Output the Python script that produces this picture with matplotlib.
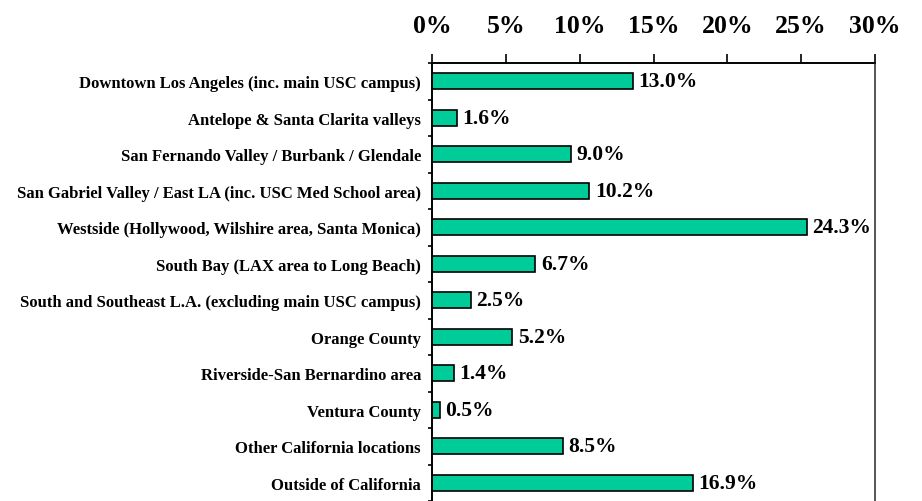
import numpy as np
import matplotlib
matplotlib.use('Agg')
import matplotlib.pyplot as plt
from matplotlib.ticker import FixedLocator

plt.rcParams['font.family'] = ['Liberation Serif', 'DejaVu Serif']
plt.rcParams['font.weight'] = 'bold'

regions = ['Downtown Los Angeles (inc. main USC campus)',
           'Antelope & Santa Clarita valleys',
           'San Fernando Valley / Burbank / Glendale',
           'San Gabriel Valley / East LA (inc. USC Med School area)',
           'Westside (Hollywood, Wilshire area, Santa Monica)',
           'South Bay (LAX area to Long Beach)',
           'South and Southeast L.A. (excluding main USC campus)',
           'Orange County',
           'Riverside-San Bernardino area',
           'Ventura County',
           'Other California locations',
           'Outside of California']
shares = [13.0, 1.6, 9.0, 10.2, 24.3, 6.7, 2.5, 5.2, 1.4, 0.5, 8.5, 16.9]
xticks = [0, 5, 10, 15, 20, 25, 30]

fig = plt.figure(figsize=(9.22, 5.02), dpi=100)
ax = fig.add_axes([432/922, 0, (875-432)/922, 1 - 64/502])

# bars in the original run a little longer than the tick scale suggests
bar_max = 30 * 14.77 / 15.43

y = np.arange(len(regions))
ax.barh(y, shares, height=0.43, color='#00CC99', edgecolor='black', linewidth=1.2)
for yi, v in zip(y, shares):
    ax.annotate(f'{v:.1f}%', (v, yi), xytext=(4, 0), textcoords='offset points',
                va='center', ha='left', fontsize=15.5, fontweight='bold')

ax.set_xlim(0, bar_max)
ax.set_ylim(len(regions) - 0.5, -0.5)
ax.set_xticks([])

ax.set_yticks(y)
ax.set_yticklabels(regions, fontsize=12, fontweight='bold')
ax.tick_params(axis='y', which='major', length=0, pad=8)
ax.yaxis.set_minor_locator(FixedLocator(np.arange(-0.5, len(regions), 1)))
ax.tick_params(axis='y', which='minor', direction='out', length=3, width=1.2)

top = ax.twiny()
top.set_xlim(0, 30)
top.set_xticks(xticks)
top.set_xticklabels([f'{t}%' for t in xticks], fontsize=18.5, fontweight='bold')
top.tick_params(axis='x', direction='out', length=6.5, width=1.2, pad=12)

for a in (ax, top):
    a.spines['bottom'].set_visible(False)
    a.spines['top'].set_linewidth(1.2)
    a.spines['left'].set_linewidth(1.2)
    a.spines['right'].set_linewidth(1.2)
    a.spines['right'].set_color('#555555')

fig.savefig('out.png', dpi=100)
